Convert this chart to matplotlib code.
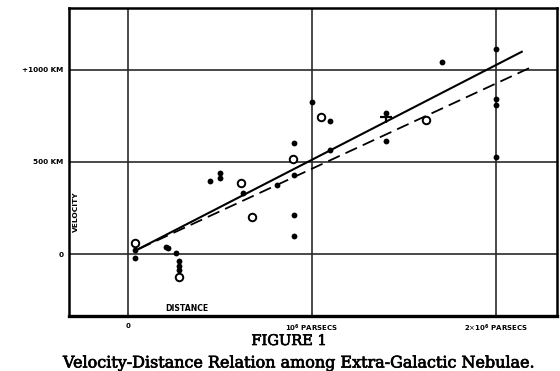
import matplotlib
matplotlib.use("Agg")
import matplotlib.pyplot as plt
import matplotlib.patheffects as pe

# Individual nebulae (distance in units of 10^6 parsecs, velocity in km/s)
nebula_dist = [0.038, 0.038, 0.205, 0.215, 0.261, 0.277, 0.277, 0.277,
               0.446, 0.50, 0.50, 0.627, 0.808, 0.90, 0.90, 0.90, 0.90,
               1.00, 1.10, 1.10, 1.40, 1.40, 1.705, 2.00, 2.00, 2.00, 2.00]
nebula_vel = [23, -22, 40, 35, 9, -35, -63, -85,
              397, 439, 412, 330, 375, 601, 430, 213, 99,
              827, 724, 565, 764, 614, 1043, 1112, 841, 809, 525]

# Nebulae combined into groups
group_dist = [0.038, 0.277, 0.612, 0.672, 0.898, 1.05, 1.62]
group_vel = [60, -121, 384, 200, 516, 742, 727]

# Mean of the nebulae without individual distances
mean_dist = [1.40]
mean_vel = [745]

# Fitted relations
solid_dist = [0.04, 2.14]
solid_vel = [20, 1097]
dashed_dist = [0.06, 2.21]
dashed_vel = [30, 1022]

x_ticks = [0, 1, 2]
x_tick_labels = ["0", r"10$^{\mathbf{6}}$ PARSECS", r"2$\times$10$^{\mathbf{6}}$ PARSECS"]
y_ticks = [0, 500, 1000]
y_tick_labels = ["0", "500 KM", "+1000 KM"]

W, H = 560, 371
fig = plt.figure(figsize=(W / 100, H / 100), dpi=100)
fig.patch.set_facecolor("white")

left, right, top, bottom = 69, 557, 8, 316
ax = fig.add_axes([left / W, 1 - bottom / H, (right - left) / W, (bottom - top) / H])
ax.set_xlim(-0.3207, 2.3315)
ax.set_ylim(-334, 1334)

for x in x_ticks:
    ax.axvline(x, color="#2a2a2a", lw=1.2, zorder=1)
for y in y_ticks:
    ax.axhline(y, color="#2a2a2a", lw=1.2, zorder=1)

ax.plot(solid_dist, solid_vel, color="black", lw=1.5, zorder=2)
ax.plot(dashed_dist, dashed_vel, color="black", lw=1.3, dashes=(7, 3.5), zorder=2)

ax.plot(nebula_dist, nebula_vel, "o", color="black", ms=4.2, mew=0, zorder=3)
ax.plot(group_dist, group_vel, "o", mfc="white", mec="black", ms=5.4, mew=1.4, zorder=3)
ax.plot(mean_dist, mean_vel, "+", color="black", ms=8, mew=1.6, zorder=4)

for side in ["left", "right", "top", "bottom"]:
    ax.spines[side].set_color("black")
    ax.spines[side].set_linewidth(1.8)
ax.spines["bottom"].set_linewidth(2.4)

ax.set_xticks(x_ticks)
ax.set_xticklabels(x_tick_labels, fontsize=5, fontweight="bold")
ax.set_yticks(y_ticks)
ax.set_yticklabels(y_tick_labels, fontsize=5.2, fontweight="bold")
ax.tick_params(length=0, pad=5)
ax.tick_params(axis="y", pad=4)

ax.text(-0.283, 230, "VELOCITY", rotation=90, fontsize=5.4, fontweight="bold",
        ha="center", va="center")
ax.text(0.32, -318, "DISTANCE", fontsize=5.6, fontweight="bold",
        ha="center", va="bottom")

thick = [pe.withStroke(linewidth=0.5, foreground="black")]
fig.text(289 / W, 1 - 341 / H, "FIGURE 1", fontsize=10.5, family="DejaVu Serif",
         ha="center", va="center", path_effects=thick)
fig.text(300 / W, 1 - 363 / H, "Velocity-Distance Relation among Extra-Galactic Nebulae.",
         fontsize=11.5, family="DejaVu Serif", ha="center", va="center",
         path_effects=thick)

fig.savefig("out.png", dpi=100, facecolor="white")
